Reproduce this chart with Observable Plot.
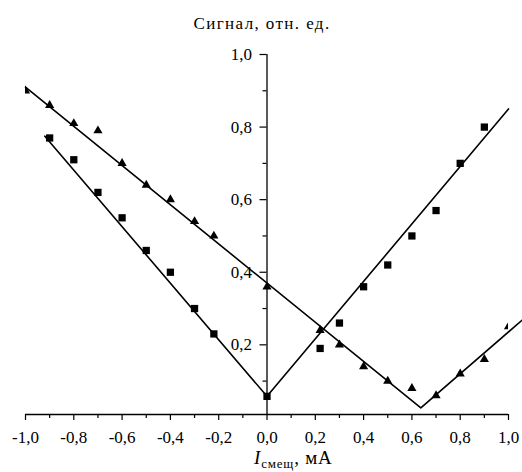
<!DOCTYPE html>
<html><head><meta charset="utf-8">
<script src="https://cdn.jsdelivr.net/npm/d3@7"></script>
<script src="https://cdn.jsdelivr.net/npm/@observablehq/plot@0.6"></script>
<style>body{margin:0;overflow:hidden;background:#fff}</style>
</head><body><div id="chart"></div>
<script>
// Squares series
const sqX = [-0.9,-0.8,-0.7,-0.6,-0.5,-0.4,-0.3,-0.22,0,0.22,0.3,0.4,0.5,0.6,0.7,0.8,0.9];
const sqY = [0.77,0.71,0.62,0.55,0.46,0.40,0.30,0.23,0.058,0.19,0.26,0.36,0.42,0.50,0.57,0.70,0.80];
// Triangles series
const triX = [-1.0,-0.9,-0.8,-0.7,-0.6,-0.5,-0.4,-0.3,-0.22,0,0.22,0.3,0.4,0.5,0.6,0.7,0.8,0.9,1.0];
const triY = [0.90,0.86,0.81,0.79,0.70,0.64,0.60,0.54,0.50,0.36,0.24,0.20,0.14,0.10,0.08,0.06,0.12,0.16,0.25];
// Fitted lines
const sqFitLeftX = [-0.92, 0];
const sqFitLeftY = [0.775, 0.058];
const sqFitRightX = [0, 1.0];
const sqFitRightY = [0.058, 0.85];
const triFitX = [-1.0, 0.637, 1.06];
const triFitY = [0.91, 0.026, 0.27];
// Ticks
const xMajor = [-1,-0.8,-0.6,-0.4,-0.2,0,0.2,0.4,0.6,0.8,1];
const xMinor = [-0.9,-0.7,-0.5,-0.3,-0.1,0.1,0.3,0.5,0.7,0.9];
const yMajor = [0.2,0.4,0.6,0.8,1.0];
const yMinor = [0.1,0.3,0.5,0.7,0.9];
const yTitle = "Сигнал, отн. ед.";
const xTitleMain = "I";
const xTitleSub = "смещ";
const xTitleUnit = ", мА";

const FONT = "'Liberation Serif', 'DejaVu Serif', serif";
const W = 522, H = 472, ML = 25, MR = 14, MT = 54, MB = 58;
const xDomain = [-1, 1], yDomain = [0.008, 1];
const xs = Plot.scale({x: {domain: xDomain, range: [ML, W - MR]}});
const yAxisDx = xs.apply(0) - ML;

const pts = (X, Y) => X.map((x, i) => ({x, y: Y[i]}));
const fmt = d => d.toFixed(1).replace(".", ",");

const chart = Plot.plot({
  width: W, height: H,
  marginLeft: ML, marginRight: MR, marginTop: MT, marginBottom: MB,
  x: {domain: xDomain},
  y: {domain: yDomain},
  style: {fontSize: "17px", background: "white", color: "black", overflow: "hidden"},
  marks: [
    Plot.ruleY([yDomain[0]], {stroke: "black", strokeWidth: 1.3}),
    Plot.ruleX([0], {stroke: "black", strokeWidth: 1.3}),
    Plot.axisX(xMajor, {anchor: "bottom", tickSize: 6, tickPadding: 10, tickFormat: fmt, label: null, strokeWidth: 1.2, fontSize: 17}),
    Plot.axisX(xMinor, {anchor: "bottom", tickSize: 4, text: null, label: null, strokeWidth: 1.2}),
    Plot.axisY(yMajor, {anchor: "left", dx: yAxisDx, tickSize: 7, tickPadding: 8, tickFormat: fmt, label: null, strokeWidth: 1.2, fontSize: 17}),
    Plot.axisY(yMinor, {anchor: "left", dx: yAxisDx, tickSize: 4, text: null, label: null, strokeWidth: 1.2}),
    Plot.line(pts(sqFitLeftX, sqFitLeftY), {x: "x", y: "y", stroke: "black", strokeWidth: 1.6}),
    Plot.line(pts(sqFitRightX, sqFitRightY), {x: "x", y: "y", stroke: "black", strokeWidth: 1.6}),
    Plot.line(pts(triFitX, triFitY), {x: "x", y: "y", stroke: "black", strokeWidth: 1.6}),
    Plot.dot(pts(sqX, sqY), {x: "x", y: "y", symbol: "square", r: 4.1, fill: "black", stroke: "none", clip: "frame"}),
    Plot.dot(pts(triX, triY), {x: "x", y: "y", symbol: "triangle", r: 3.4, fill: "black", stroke: "none", clip: "frame"})
  ]
});

const svg = d3.select(chart);
svg.append("text")
  .attr("x", 262).attr("y", 29)
  .attr("text-anchor", "middle")
  .attr("font-size", 17)
  .attr("letter-spacing", 1.4)
  .attr("fill", "black")
  .text(yTitle);
const t = svg.append("text")
  .attr("x", 254).attr("y", 464)
  .attr("text-anchor", "start")
  .attr("font-size", 19)
  .attr("letter-spacing", 0.8)
  .attr("fill", "black");
t.append("tspan").attr("font-style", "italic").text(xTitleMain);
t.append("tspan").attr("font-size", 13).attr("dy", 4).text(xTitleSub);
t.append("tspan").attr("dy", -4).text(xTitleUnit);
svg.selectAll("text").style("font-family", FONT);

document.getElementById("chart").appendChild(chart);
</script>
</body></html>
